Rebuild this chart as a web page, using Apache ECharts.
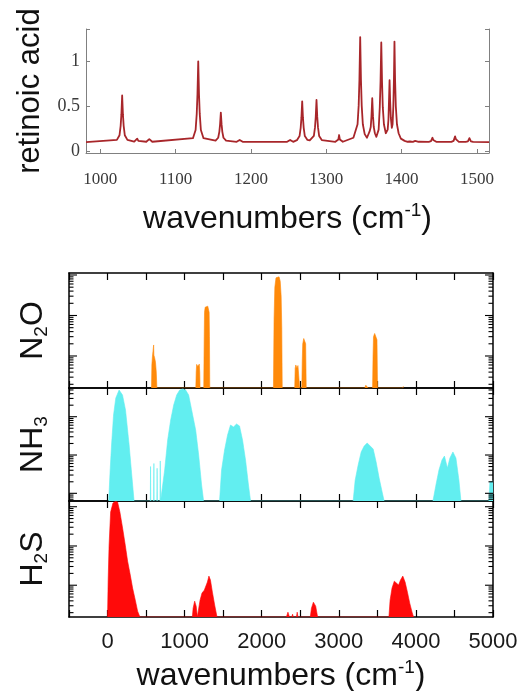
<!DOCTYPE html>
<html>
<head>
<meta charset="utf-8">
<script src="https://cdn.jsdelivr.net/npm/echarts@6/dist/echarts.min.js"></script>
<style>
  html, body { margin: 0; padding: 0; background: #fff; }
  #chart { width: 527px; height: 691px; }
</style>
</head>
<body>
<div id="chart"></div>
<script>
// ---- Retinoic acid Raman spectrum: [wavenumber cm^-1, intensity] ----
const retinoicAcid = [
  [981, 0.1],
  [1022, 0.126], [1025.5, 0.178], [1027, 0.282], [1028, 0.412], [1029, 0.62], [1030, 0.412], [1031, 0.282], [1032.5, 0.178], [1036, 0.126],
  [1045, 0.106], [1047.5, 0.115], [1049, 0.14], [1050.5, 0.115], [1053, 0.106],
  [1061, 0.105], [1063.5, 0.113], [1065, 0.135], [1066.5, 0.113], [1069, 0.105],
  [1123, 0.145], [1126.5, 0.235], [1128, 0.415], [1129, 0.64], [1130, 1.0], [1131, 0.64], [1132, 0.415], [1133.5, 0.235], [1137, 0.145],
  [1153, 0.117], [1156.5, 0.15], [1158, 0.216], [1159, 0.298], [1160, 0.43], [1161, 0.298], [1162, 0.216], [1163.5, 0.15], [1167, 0.117],
  [1181, 0.104], [1183.5, 0.11], [1185, 0.125], [1186.5, 0.11], [1189, 0.104],
  [1248, 0.104], [1250.5, 0.11], [1252, 0.125], [1253.5, 0.11], [1256, 0.104],
  [1261, 0.123], [1264.5, 0.168], [1266, 0.26], [1267, 0.373], [1268, 0.555], [1269, 0.373], [1270, 0.26], [1271.5, 0.168], [1275, 0.125],
  [1278, 0.12],
  [1280, 0.124], [1283.5, 0.17], [1285, 0.265], [1286, 0.382], [1287, 0.57], [1288, 0.382], [1289, 0.265], [1290.5, 0.17], [1294, 0.124],
  [1312, 0.105], [1314.5, 0.115], [1316, 0.13], [1317, 0.18], [1318, 0.13], [1319.5, 0.115], [1322, 0.105],
  [1336, 0.15], [1338, 0.17], [1341.5, 0.3], [1343, 0.51], [1344, 0.8], [1345, 1.27], [1346, 0.8], [1347, 0.51], [1348.5, 0.3], [1351, 0.19], [1354, 0.15],
  [1356, 0.17], [1357.5, 0.22], [1359, 0.27], [1360, 0.39], [1361, 0.59], [1362, 0.39], [1363, 0.27], [1364.5, 0.2], [1366.5, 0.16],
  [1368.5, 0.18], [1369.5, 0.24], [1371, 0.49], [1372, 0.77], [1373, 1.21], [1374, 0.77], [1375, 0.49], [1376.5, 0.3], [1379, 0.2], [1380.5, 0.19],
  [1381.5, 0.24], [1382.5, 0.35], [1383.2, 0.55], [1384, 0.79], [1384.8, 0.55], [1385.7, 0.37], [1387, 0.26],
  [1388, 0.3], [1389, 0.5], [1389.8, 0.8], [1390.5, 1.22], [1391.3, 0.8], [1392.3, 0.5], [1393.8, 0.3], [1396, 0.2], [1399, 0.14], [1404, 0.115], [1408, 0.105],
  [1409, 0.103], [1411, 0.108], [1412, 0.12], [1413, 0.108], [1415, 0.104],
  [1417, 0.108], [1418, 0.115], [1419, 0.135], [1420, 0.115], [1422.5, 0.105],
  [1436, 0.104], [1439, 0.112], [1440, 0.125], [1441, 0.15], [1442, 0.125], [1443, 0.112], [1446, 0.104],
  [1466, 0.104], [1469, 0.115], [1470, 0.135], [1471, 0.165], [1472, 0.135], [1473, 0.115], [1476, 0.104],
  [1485, 0.104], [1488, 0.11], [1489, 0.125], [1490, 0.145], [1491, 0.125], [1492, 0.11], [1495, 0.104],
  [1516, 0.1]
];

// ---- Gas absorption panels (log intensity scale) ----
const N2O_RANGE = [0.00162, 1.12];
const NH3_RANGE = [0.0063, 5.62];
const H2S_RANGE = [0.00155, 1.40];

const F1 = N2O_RANGE[0];
const n2oBands = [
  [570, F1], [575, 0.006], [582, 0.0096], [592, 0.0105], [598, 0.0187], [601, 0.0105], [610, 0.0092], [622, 0.007], [632, 0.004], [640, F1],
  [1145, F1], [1150, 0.004], [1156, 0.0062], [1165, 0.0058], [1172, 0.0055], [1180, 0.006], [1190, 0.0063], [1196, 0.004], [1200, F1],
  [1248, F1], [1254, 0.03], [1258, 0.12], [1266, 0.16], [1285, 0.15], [1300, 0.17], [1312, 0.172], [1318, 0.12], [1322, 0.03], [1326, F1],
  [2152, F1], [2160, 0.08], [2170, 0.5], [2185, 0.85], [2205, 0.95], [2225, 0.9], [2240, 0.7], [2252, 0.3], [2260, 0.05], [2266, F1],
  [2428, F1], [2434, 0.005], [2442, 0.006], [2458, 0.005], [2470, 0.0058], [2485, 0.006], [2492, F1],
  [2520, F1], [2526, 0.008], [2532, 0.02], [2545, 0.027], [2560, 0.026], [2570, 0.02], [2577, F1],
  [3338, F1], [3350, 0.0019], [3362, 0.0021], [3372, 0.0019], [3380, F1],
  [3438, F1], [3444, 0.01], [3450, 0.03], [3465, 0.036], [3485, 0.035], [3495, 0.025], [3502, F1],
  [3832, F1], [3838, 0.0018], [3844, F1]
];

const F2 = NH3_RANGE[0];
const nh3Bands = [
  [15, F2], [34, 0.0406], [52, 0.182], [78, 1.11], [107, 3.08], [150, 4.98], [194, 3.69], [233, 1.5], [280, 0.182], [314, 0.03], [344, F2],
  [555, F2], [558, 0.05], [561, F2], [598, F2], [601, 0.06], [604, F2], [640, F2], [643, 0.045], [646, F2], [680, F2], [684, 0.07], [688, F2],
  [712, F2], [741, 0.0406], [780, 0.246], [819, 0.82], [858, 2.02], [897, 3.69], [936, 4.98], [974, 5.29], [1013, 4.98], [1052, 3.69], [1091, 1.5], [1143, 0.45], [1182, 0.1], [1220, 0.0165], [1246, F2],
  [1453, F2], [1479, 0.0406], [1518, 0.135], [1557, 0.333], [1595, 0.607], [1634, 0.539], [1673, 0.645], [1712, 0.572], [1751, 0.246], [1790, 0.074], [1828, 0.0165], [1855, F2],
  [3186, F2], [3212, 0.022], [3251, 0.0548], [3290, 0.12], [3329, 0.172], [3368, 0.206], [3407, 0.172], [3446, 0.143], [3484, 0.0656], [3523, 0.025], [3562, 0.0108], [3588, F2],
  [4221, F2], [4260, 0.0165], [4299, 0.0406], [4338, 0.074], [4370, 0.094], [4409, 0.0458], [4441, 0.0835], [4480, 0.12], [4519, 0.0835], [4558, 0.022], [4584, F2],
  [4946, F2], [4960, 0.0197], [5000, 0.021]
];

const F3 = H2S_RANGE[0];
const h2sBands = [
  [0, F3], [8, 0.0135], [20, 0.105], [40, 0.733], [70, 1.24], [100, 1.36], [130, 1.32], [160, 0.733], [195, 0.286], [230, 0.105], [260, 0.0412], [295, 0.0181], [325, 0.00844], [360, 0.00417], [390, 0.00218], [420, F3],
  [1100, F3], [1110, 0.0026], [1130, 0.00393], [1150, 0.0029], [1165, F3],
  [1190, F3], [1200, 0.00417], [1225, 0.0063], [1255, 0.0075], [1275, 0.0067], [1295, 0.012], [1315, 0.0171], [1335, 0.0135], [1360, 0.00667], [1390, 0.0031], [1420, F3],
  [2320, F3], [2340, 0.00206], [2360, F3], [2390, F3], [2400, 0.00183], [2410, F3], [2450, F3], [2460, 0.00206], [2470, F3],
  [2630, F3], [2645, 0.0026], [2670, 0.0037], [2700, 0.00293], [2725, F3],
  [3650, F3], [3665, 0.00417], [3690, 0.00844], [3720, 0.0127], [3745, 0.0113], [3775, 0.0101], [3800, 0.0135], [3830, 0.0171], [3860, 0.012], [3890, 0.00667], [3920, 0.00349], [3950, 0.00206], [3970, F3]
];

const TOP_X = [981, 1516];
const TOP_Y = [-0.02, 1.36];
const TOP_Y_LABELS = [0, 0.5, 1];
const GAS_X = [-500, 5000];
const GAS_X_STEP = 500;

const SANS = "'Liberation Sans', Arial, sans-serif";
const SERIF = "'Liberation Serif', 'DejaVu Serif', serif";
const GREY = '#808080';

const chart = echarts.init(document.getElementById('chart'), null, { renderer: 'canvas' });

const bigName = {
  fontFamily: SANS, fontSize: 32, color: '#111', lineHeight: 36,
  rich: {
    sub: { fontFamily: SANS, fontSize: 19, color: '#111', verticalAlign: 'bottom', lineHeight: 20 },
    sup: { fontFamily: SANS, fontSize: 19, color: '#111', verticalAlign: 'top', lineHeight: 20 }
  }
};

function gasXAxis(grid, position, withLabels) {
  return {
    type: 'value', gridIndex: grid, position: position,
    min: GAS_X[0], max: GAS_X[1], interval: GAS_X_STEP,
    axisLine: { show: true, onZero: false, lineStyle: { color: '#000', width: 1.5 } },
    axisTick: { show: true, inside: true, length: 7, lineStyle: { color: '#000', width: 1.2 } },
    axisLabel: {
      show: withLabels, fontFamily: SANS, fontSize: 22, color: '#1a1a1a', margin: 14,
      formatter: v => (v % 1000 === 0 ? String(v) : '')
    },
    splitLine: { show: false }
  };
}

function gasYAxis(grid, range, position, name) {
  const ax = {
    type: 'log', logBase: 10, gridIndex: grid, position: position,
    min: range[0], max: range[1],
    axisLine: { show: true, onZero: false, lineStyle: { color: '#000', width: 1.5 } },
    axisTick: { show: false },
    axisLabel: { show: false },
    splitLine: { show: false }
  };
  if (name) {
    ax.name = name;
    ax.nameLocation = 'middle';
    ax.nameRotate = 90;
    ax.nameGap = 18;
    ax.nameTextStyle = bigName;
  }
  return ax;
}

// Decade / sub-decade tick marks for the log panels, drawn on both side axes
function logTicks(xIdx, yIdx, range) {
  const data = [];
  const k0 = Math.floor(Math.log10(range[0]));
  const k1 = Math.ceil(Math.log10(range[1]));
  for (let k = k0; k <= k1; k++) {
    for (let m = 1; m <= 9; m++) {
      const v = m * Math.pow(10, k);
      if (v > range[0] * 1.001 && v < range[1] / 1.001) data.push([GAS_X[0], v, m === 1 ? 1 : 0]);
    }
  }
  return {
    type: 'custom', xAxisIndex: xIdx, yAxisIndex: yIdx, silent: true, clip: false, z: 10,
    encode: { x: 0, y: 1 },
    data: data,
    renderItem: function (params, api) {
      const v = api.value(1);
      const len = api.value(2) === 1 ? 8 : 4.5;
      const l = api.coord([GAS_X[0], v]);
      const r = api.coord([GAS_X[1], v]);
      const st = { stroke: '#000', lineWidth: 1.1 };
      return {
        type: 'group',
        children: [
          { type: 'line', shape: { x1: l[0], y1: l[1], x2: l[0] + len, y2: l[1] }, style: st },
          { type: 'line', shape: { x1: r[0], y1: r[1], x2: r[0] - len, y2: r[1] }, style: st }
        ]
      };
    }
  };
}

function bandSeries(xIdx, yIdx, data, color) {
  return {
    type: 'line', xAxisIndex: xIdx, yAxisIndex: yIdx, data: data,
    showSymbol: false, smooth: false, silent: true,
    lineStyle: { color: color, width: 0.6 },
    areaStyle: { color: color, opacity: 1, origin: 'start' }
  };
}

const option = {
  backgroundColor: '#fff',
  animation: false,
  grid: [
    { left: 86, top: 29, width: 403, height: 124, outerBoundsMode: 'none' },
    { left: 69, top: 273, width: 424, height: 115, outerBoundsMode: 'none' },
    { left: 69, top: 388, width: 424, height: 113, outerBoundsMode: 'none' },
    { left: 69, top: 501, width: 424, height: 116, outerBoundsMode: 'none' }
  ],
  xAxis: [
    {
      type: 'value', gridIndex: 0, min: TOP_X[0], max: TOP_X[1], splitNumber: 5,
      axisLine: { show: true, onZero: false, lineStyle: { color: GREY, width: 1 } },
      axisTick: { show: true, inside: true, length: 4, lineStyle: { color: GREY } },
      axisLabel: {
        fontFamily: SERIF, fontSize: 17, color: '#3a3a3a', margin: 18,
        showMinLabel: false, showMaxLabel: false,
        formatter: v => (v % 100 === 0 ? String(v) : '')
      },
      splitLine: { show: false },
      name: 'wavenumbers (cm{sup|-1})', nameLocation: 'middle', nameGap: 48,
      nameTextStyle: bigName
    },
    gasXAxis(1, 'bottom', false),
    gasXAxis(1, 'top', false),
    gasXAxis(2, 'bottom', false),
    gasXAxis(2, 'top', false),
    Object.assign(gasXAxis(3, 'bottom', true), {
      name: 'wavenumbers (cm{sup|-1})', nameLocation: 'middle', nameGap: 41, nameTextStyle: bigName
    }),
    gasXAxis(3, 'top', false)
  ],
  yAxis: [
    {
      type: 'value', gridIndex: 0, min: TOP_Y[0], max: TOP_Y[1], splitNumber: 3,
      axisLine: { show: true, onZero: false, lineStyle: { color: GREY, width: 1 } },
      axisTick: { show: true, inside: true, length: 4, lineStyle: { color: GREY } },
      axisLabel: {
        fontFamily: SERIF, fontSize: 18, color: '#3a3a3a', margin: 6,
        formatter: v => (TOP_Y_LABELS.indexOf(v) >= 0 ? String(v) : '')
      },
      splitLine: { show: false },
      name: 'retinoic acid', nameLocation: 'middle', nameRotate: 90, nameGap: 40,
      nameTextStyle: { fontFamily: SANS, fontSize: 31, color: '#111' }
    },
    {
      type: 'value', gridIndex: 0, position: 'right', min: TOP_Y[0], max: TOP_Y[1], splitNumber: 3,
      axisLine: { show: true, onZero: false, lineStyle: { color: GREY, width: 1 } },
      axisTick: { show: true, inside: true, length: 4, lineStyle: { color: GREY } },
      axisLabel: { show: false },
      splitLine: { show: false }
    },
    gasYAxis(1, N2O_RANGE, 'left', 'N{sub|2}O'),
    gasYAxis(1, N2O_RANGE, 'right'),
    gasYAxis(2, NH3_RANGE, 'left', 'NH{sub|3}'),
    gasYAxis(2, NH3_RANGE, 'right'),
    gasYAxis(3, H2S_RANGE, 'left', 'H{sub|2}S'),
    gasYAxis(3, H2S_RANGE, 'right')
  ],
  series: [
    {
      type: 'line', xAxisIndex: 0, yAxisIndex: 0, data: retinoicAcid,
      showSymbol: false, smooth: false, silent: true,
      lineStyle: { color: '#a8262a', width: 1.8, join: 'round' }
    },
    bandSeries(1, 2, n2oBands, '#ff8a0a'),
    bandSeries(3, 4, nh3Bands, '#62eef0'),
    bandSeries(5, 6, h2sBands, '#ff0a0a'),
    logTicks(1, 2, N2O_RANGE),
    logTicks(3, 4, NH3_RANGE),
    logTicks(5, 6, H2S_RANGE)
  ]
};

chart.setOption(option);
</script>
</body>
</html>
